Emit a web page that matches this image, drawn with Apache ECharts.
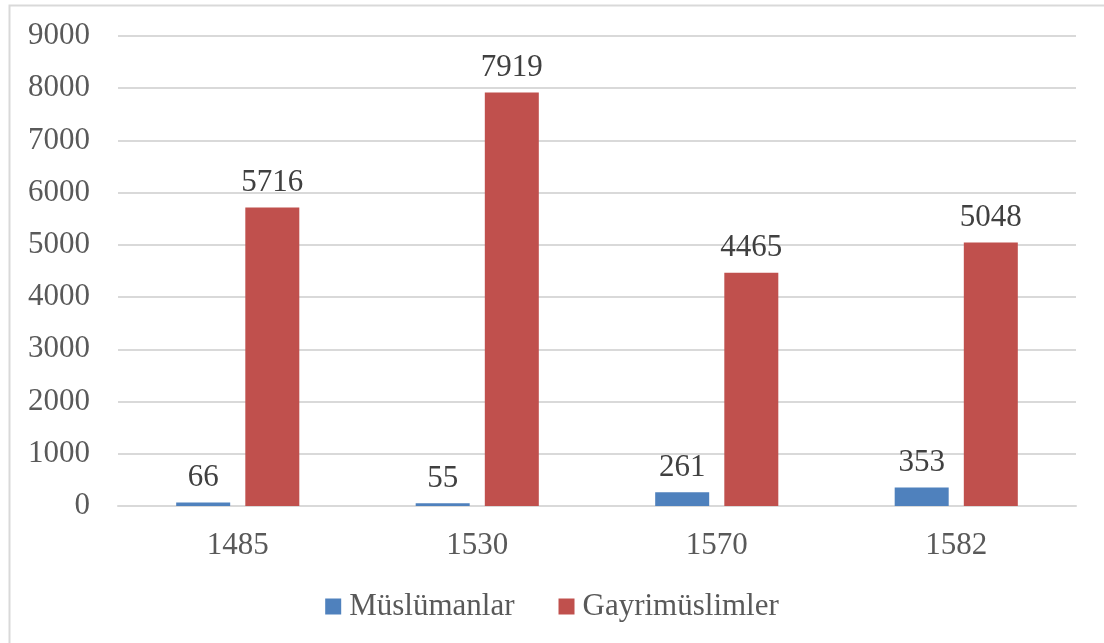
<!DOCTYPE html>
<html>
<head>
<meta charset="utf-8">
<script src="https://cdn.jsdelivr.net/npm/echarts@6/dist/echarts.min.js"></script>
<style>
html,body{margin:0;padding:0;background:#fff;}
#chart{width:1104px;height:643px;}
</style>
</head>
<body>
<div id="chart"></div>
<script>
var years = ['1485', '1530', '1570', '1582'];
var muslims = [66, 55, 261, 353];
var nonMuslims = [5716, 7919, 4465, 5048];
var seriesNames = ['Müslümanlar', 'Gayrimüslimler'];

var font = '"Liberation Serif", "Times New Roman", serif';
var myChart = echarts.init(document.getElementById('chart'));
var option = {
    backgroundColor: '#fff',
    animation: false,
    color: ['#4F81BD', '#C0504D'],
    graphic: [
        {
            type: 'rect',
            shape: {x: 9.5, y: 5.5, width: 1110, height: 660},
            style: {fill: 'none', stroke: '#d9d9d9', lineWidth: 2}
        }
    ],
    grid: {
        left: 118,
        right: 28,
        top: 36,
        bottom: 137
    },
    legend: {
        top: 586,
        left: 'center',
        itemWidth: 16,
        itemHeight: 16,
        itemGap: 44,
        icon: 'rect',
        textStyle: {fontFamily: font, fontSize: 31, color: '#595959', padding: [0, 0, 0, 3]},
        data: seriesNames
    },
    xAxis: {
        type: 'category',
        data: years,
        axisLine: {show: true, lineStyle: {color: '#d9d9d9', width: 2}},
        axisTick: {show: false},
        axisLabel: {
            fontFamily: font, fontSize: 31, color: '#595959', margin: 24
        }
    },
    yAxis: {
        type: 'value',
        min: 0,
        max: 9000,
        interval: 1000,
        axisLine: {show: false},
        axisTick: {show: false},
        splitLine: {lineStyle: {color: '#d9d9d9', width: 2}},
        axisLabel: {
            fontFamily: font, fontSize: 31, color: '#595959', margin: 28,
            formatter: function (v) { return String(v); }
        }
    },
    series: [
        {
            name: seriesNames[0],
            type: 'bar',
            data: muslims,
            barWidth: 54,
            barGap: '28%',
            label: {
                show: true, position: 'top', distance: 9,
                fontFamily: font, fontSize: 31, color: '#404040'
            }
        },
        {
            name: seriesNames[1],
            type: 'bar',
            data: nonMuslims,
            barWidth: 54,
            barGap: '28%',
            label: {
                show: true, position: 'top', distance: 9,
                fontFamily: font, fontSize: 31, color: '#404040'
            }
        }
    ]
};
myChart.setOption(option);
</script>
</body>
</html>
